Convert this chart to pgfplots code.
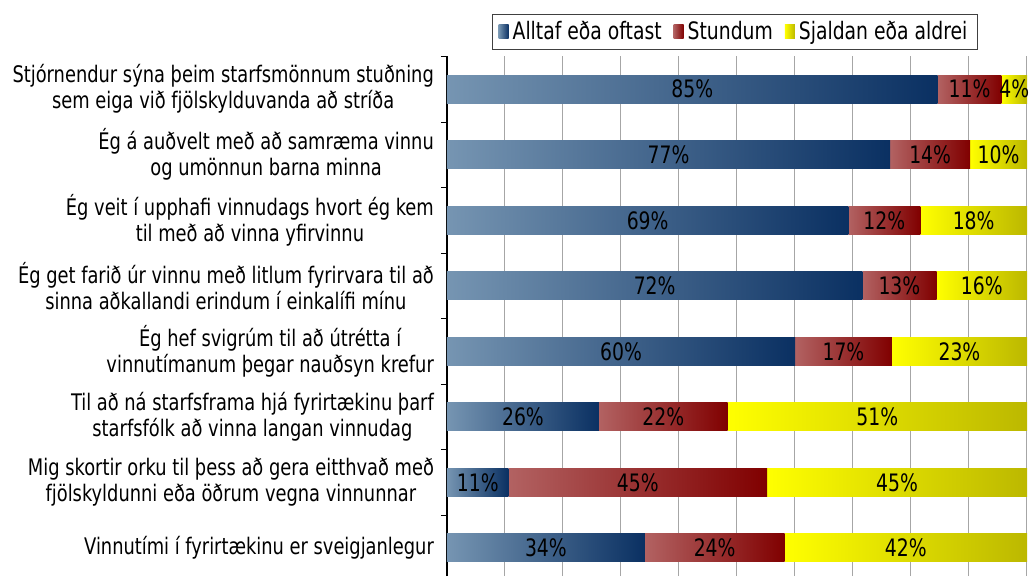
\documentclass[border=0pt]{standalone}
\usepackage{fontspec}
\setmainfont{DejaVu Sans Condensed}[FakeStretch=0.87]
\usepackage{pgfplots}
\usepackage{pgfplotstable}
\pgfplotsset{compat=1.18}

\definecolor{bluelight}{RGB}{118,149,178}
\definecolor{bluedark}{RGB}{10,48,98}
\definecolor{redlight}{RGB}{178,98,98}
\definecolor{reddark}{RGB}{128,0,0}
\definecolor{yellowlight}{RGB}{255,255,0}
\definecolor{yellowdark}{RGB}{188,184,0}

% y=0 is the bottom row; a/b/c are bar lengths, la/lb/lc the printed labels
\pgfplotstableread{
y a    b    c    la lb lc
7 84.6 11.0 4.4  85 11 4
6 76.4 13.8 9.8  77 14 10
5 69.2 12.4 18.4 69 12 18
4 71.6 12.8 15.6 72 13 16
3 60.0 16.7 23.3 60 17 23
2 26.2 22.2 51.6 26 22 51
1 10.6 44.6 44.8 11 45 45
0 34.1 24.1 41.8 34 24 42
}\data

\pgfplotsset{
    common/.style={
        scale only axis,
        width=290pt, height=259.75pt,
        xmin=0, xmax=100,
        ymin=-0.43, ymax=7.5,
    },
    bluebar/.style={draw=none, left color=bluelight, right color=bluedark},
    redbar/.style={draw=none, left color=redlight, right color=reddark},
    yellowbar/.style={draw=none, left color=yellowlight, right color=yellowdark},
}

\begin{document}
\begin{tikzpicture}
% frame: grid, category labels, legend
\begin{axis}[
    common,
    name=ax,
    axis lines*=left,
    x axis line style={draw=none},
    xtick={0,10,...,100},
    xticklabels={},
    major x tick style={draw=none},
    xmajorgrids,
    grid style={draw=black!35, line width=0.5pt},
    ytick={0,...,7},
    major y tick style={draw=none},
    yticklabels={
        {Vinnutími í fyrirtækinu er sveigjanlegur},
        {Mig skortir orku til þess að gera eitthvað með\\fjölskyldunni eða öðrum vegna vinnunnar},
        {Til að ná starfsframa hjá fyrirtækinu þarf\\starfsfólk að vinna langan vinnudag},
        {Ég hef svigrúm til að útrétta í\\vinnutímanum þegar nauðsyn krefur},
        {Ég get farið úr vinnu með litlum fyrirvara til að\\sinna aðkallandi erindum í einkalífi mínu},
        {Ég veit í upphafi vinnudags hvort ég kem\\til með að vinna yfirvinnu},
        {Ég á auðvelt með að samræma vinnu\\og umönnun barna minna},
        {Stjórnendur sýna þeim starfsmönnum stuðning\\sem eiga við fjölskylduvanda að stríða}},
    yticklabel style={align=center, font=\fontsize{11.4}{13}\selectfont, xshift=-3pt},
    extra y ticks={-0.5,0.5,...,7.5},
    extra y tick labels={},
    extra y tick style={major y tick style={draw=black}, major tick length=3pt, tick align=outside, ymajorgrids=false},
    y axis line style={black, line width=0.6pt},
    legend columns=3,
    legend style={at={(0.4966,1.048)}, anchor=center, draw=black!75,
        font=\fontsize{12}{13}\selectfont,
        inner ysep=1.5pt, inner xsep=3pt,
        /tikz/every even column/.append style={column sep=4pt}},
    legend image code/.code={\path[#1,draw=none] (0pt,-3.5pt) rectangle (5pt,3.5pt);},
]
\addlegendimage{bluebar}
\addlegendimage{redbar}
\addlegendimage{yellowbar}
\legend{Alltaf eða oftast, Stundum, Sjaldan eða aldrei}
\end{axis}

% one overlaid axis per row, so each bar segment gets its own gradient
\pgfplotsinvokeforeach{0,...,7}{
\begin{axis}[
    common,
    hide axis,
    xbar stacked,
    bar width=0.43,
    point meta=explicit symbolic,
    nodes near coords={\pgfplotspointmeta\%},
    nodes near coords style={font=\fontsize{12}{13}\selectfont, black, anchor=center},
]
\addplot[bluebar, restrict expr to domain={\thisrow{y}}{#1:#1}] table[x=a, y=y, meta=la] {\data};
\addplot[redbar, restrict expr to domain={\thisrow{y}}{#1:#1}] table[x=b, y=y, meta=lb] {\data};
\addplot[yellowbar, restrict expr to domain={\thisrow{y}}{#1:#1}] table[x=c, y=y, meta=lc] {\data};
\end{axis}
}
\pgfresetboundingbox
\path[use as bounding box] ([xshift=-223.5pt]ax.south west) rectangle ([xshift=3.5pt,yshift=28.25pt]ax.north east);
\end{tikzpicture}
\end{document}
